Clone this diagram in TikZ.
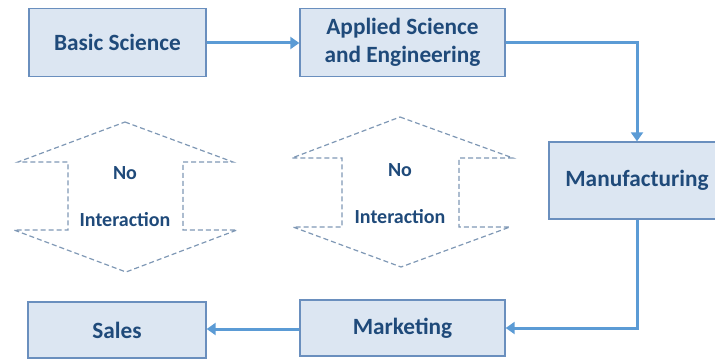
\documentclass[tikz,border=0pt]{standalone}
\usepackage{fontspec}
\setmainfont{Carlito}
\usetikzlibrary{arrows.meta}
\definecolor{boxfill}{HTML}{DCE6F2}
\definecolor{boxline}{HTML}{6A8FBE}
\definecolor{txt}{HTML}{1F4A7A}
\definecolor{arr}{HTML}{5B9BD5}
\definecolor{dash}{HTML}{7F98B5}
\tikzset{
  stagebox/.style={draw=boxline, line width=1.4pt, fill=boxfill, text=txt,
    font=\fontsize{23.3}{28}\selectfont\bfseries, align=center, inner sep=0pt},
  flow/.style={draw=arr, line width=3pt, -{Triangle[length=9pt,width=12pt]}},
  noint/.style={draw=dash, line width=1.2pt, dash pattern=on 5pt off 3pt},
  nilabel/.style={text=txt, font=\fontsize{20}{22}\selectfont\bfseries, inner sep=0pt}
}
\begin{document}
\begin{tikzpicture}[x=1pt,y=-1pt]
\useasboundingbox (0,0) rectangle (715,361);
\clip (0,0) rectangle (715,361);
\node[stagebox, minimum width=177pt, minimum height=68pt] (basic) at (117.5,42.5) {Basic Science};
\node[stagebox, minimum width=205pt, minimum height=68pt] (applied) at (402.5,42.5) {Applied Science\\and Engineering};
\node[stagebox, minimum width=176pt, minimum height=77pt] (manu) at (637,180.5) {Manufacturing};
\node[stagebox, minimum width=205pt, minimum height=56pt] (market) at (402.5,328) {Marketing};
\node[stagebox, minimum width=178pt, minimum height=56pt] (sales) at (117,330) {Sales};
\coordinate (c1) at (637,43);
\coordinate (c2) at (637,328);
\draw[flow] (basic.east |- 0,43) -- (applied.west |- 0,43);
\draw[flow] (applied.east |- c1) -- (c1) -- (manu.north);
\draw[flow] (manu.south) -- (c2) -- (market.east |- c2);
\draw[flow] (market.west |- 0,329) -- (sales.east |- 0,329);
% No interaction shapes
\draw[noint] (125,122) -- (233,162) -- (183,162) -- (183,230) -- (237,230) -- (126,272) -- (14,230) -- (68,230) -- (68,162) -- (18,162) -- cycle;
\node[nilabel] (no1) at (125,173) {No};
\node[nilabel] (int1) at (125,220) {Interaction};
\draw[noint] (400,117) -- (513,158) -- (459,158) -- (459,227) -- (510,227) -- (401,267) -- (293,227) -- (342,227) -- (342,158) -- (292,158) -- cycle;
\node[nilabel] (no2) at (400,170) {No};
\node[nilabel] (int2) at (400,217) {Interaction};
\end{tikzpicture}
\end{document}
